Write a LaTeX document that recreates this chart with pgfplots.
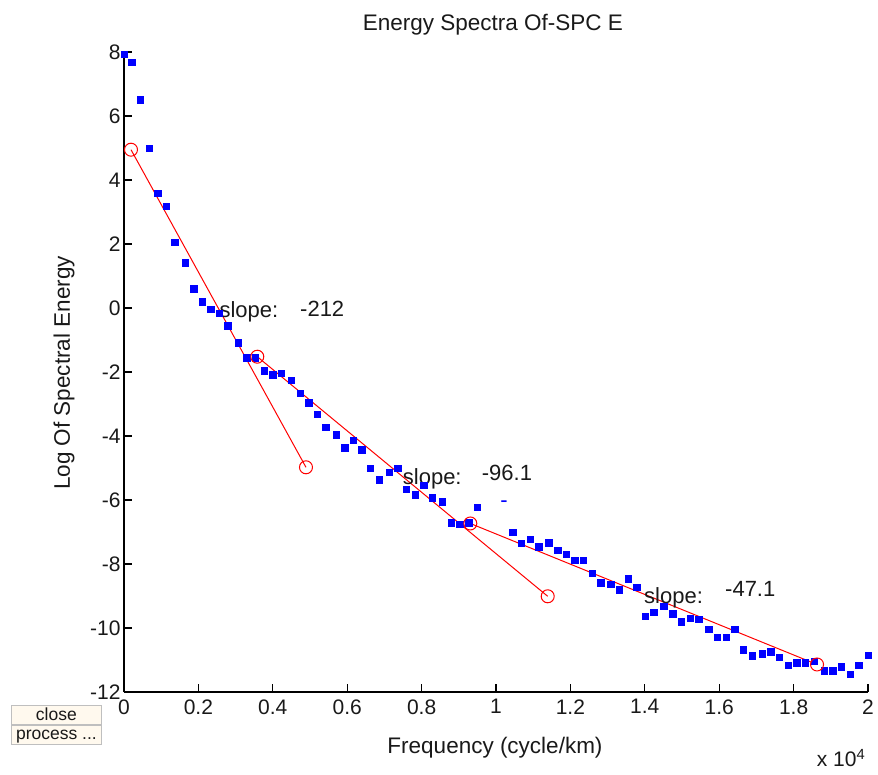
\documentclass[border=0pt]{standalone}
\usepackage{pgfplots}
\pgfplotsset{compat=1.18}
\usepackage{fontspec}
\setmainfont{Liberation Sans}
\definecolor{btn}{RGB}{255,249,238}
\definecolor{txt}{RGB}{25,25,25}
\begin{document}
\begin{tikzpicture}[x=1pt,y=1pt]
\begin{axis}[
  at={(0,0)}, anchor=south west,
  scale only axis, width=744pt, height=640pt,
  xmin=0, xmax=2, ymin=-12, ymax=8,
  axis x line*=bottom, axis y line*=left,
  tick align=inside,
  xtick={0,0.2,0.4,0.6,0.8,1,1.2,1.4,1.6,1.8,2},
  xticklabels={0,0.2,0.4,0.6,0.8,1,1.2,1.4,1.6,1.8,2},
  ytick={-12,-10,-8,-6,-4,-2,0,2,4,6,8},
  yticklabels={-12,-10,-8,-6,-4,-2,0,2,4,6,8},
  major tick length=8pt,
  clip=false,
  /pgf/number format/assume math mode=true,
  tick label style={font=\fontsize{21}{25}\selectfont, text=txt},
  xticklabel style={yshift=-4pt},
  axis line style={line width=1.2pt, black},
  every tick/.style={black, line width=1.2pt},
]
\addplot[only marks, mark=square*, mark size=3.25pt, color=blue] coordinates {
(0,7.93) (0.0207,7.68) (0.0438,6.51) (0.0672,5.00) (0.0906,3.58)
(0.1134,3.18) (0.1358,2.06) (0.1640,1.42) (0.1874,0.61) (0.2097,0.19)
(0.2331,-0.04) (0.2559,-0.16) (0.2790,-0.56) (0.3065,-1.09) (0.3298,-1.56)
(0.3530,-1.56) (0.3763,-1.96) (0.3997,-2.09) (0.4226,-2.03) (0.4497,-2.25)
(0.4739,-2.66) (0.4968,-2.96) (0.5196,-3.32) (0.5425,-3.73) (0.5699,-3.96)
(0.5933,-4.37) (0.6161,-4.13) (0.6392,-4.43) (0.6621,-5.01) (0.6855,-5.37)
(0.7124,-5.13) (0.7358,-5.01) (0.7589,-5.66) (0.7823,-5.83) (0.8056,-5.54)
(0.8288,-5.93) (0.8556,-6.06) (0.8798,-6.71) (0.9027,-6.76) (0.9261,-6.71)
(0.9489,-6.23)
(1.0452,-7.00) (1.0680,-7.35) (1.0914,-7.23) (1.1148,-7.46) (1.1419,-7.34)
(1.1653,-7.57) (1.1882,-7.70) (1.2116,-7.88) (1.2347,-7.88) (1.2581,-8.28)
(1.2815,-8.58) (1.3083,-8.63) (1.3315,-8.81) (1.3548,-8.46) (1.3782,-8.73)
(1.4013,-9.63) (1.4242,-9.51) (1.4511,-9.32) (1.4745,-9.56) (1.4981,-9.81)
(1.5215,-9.69) (1.5449,-9.73) (1.5718,-10.04) (1.5949,-10.28) (1.6183,-10.28)
(1.6417,-10.04) (1.6648,-10.68) (1.6882,-10.87) (1.7151,-10.80) (1.7384,-10.74)
(1.7616,-10.91) (1.7849,-11.16) (1.8083,-11.08) (1.8315,-11.08) (1.8548,-11.04)
(1.8817,-11.33) (1.9051,-11.33) (1.9282,-11.21) (1.9516,-11.45) (1.9750,-11.16)
(2.0000,-10.85)
};
\addplot[red, line width=1pt, mark=o, mark size=6.5pt, mark options={line width=1pt}] coordinates {(0.0188,4.947) (0.4892,-4.978)};
\addplot[red, line width=1pt, mark=o, mark size=6.5pt, mark options={line width=1pt}] coordinates {(0.3583,-1.522) (1.1390,-9.009)};
\addplot[red, line width=1pt, mark=o, mark size=6.5pt, mark options={line width=1pt}] coordinates {(0.9310,-6.734) (1.8630,-11.140)};
\begin{scope}[every node/.style={anchor=base west, inner sep=0pt, text=txt, font=\fontsize{22}{26}\selectfont}]
\node at (axis cs:0.2562,-0.291) {slope:};
\node at (axis cs:0.4731,-0.281) {-212};
\node at (axis cs:0.7492,-5.531) {slope:};
\node at (axis cs:0.9616,-5.375) {-96.1};
\node at (axis cs:1.3978,-9.228) {slope:};
\node at (axis cs:1.6156,-9.022) {-47.1};
\end{scope}
\node[text=blue, inner sep=0pt, font=\fontsize{22}{26}\selectfont] at (axis cs:1.0215,-6.125) {-};
\end{axis}
\begin{scope}[every node/.style={inner sep=0pt, text=txt, font=\fontsize{22.5}{27}\selectfont}]
\node[anchor=base] at (368.9,661) {Energy Spectra Of-SPC E};
\node[anchor=base] at (371,-61) {Frequency (cycle/km)};
\node[anchor=base, rotate=90] at (-54,319) {Log Of Spectral Energy};
\node[anchor=base west, font=\fontsize{21}{25}\selectfont] at (692.7,-74.7) {x 10\textsuperscript{4}};
\end{scope}
\fill[btn, draw=black!25, line width=0.8pt] (-113,-13.7) rectangle (-22.3,-32);
\fill[btn, draw=black!25, line width=0.8pt] (-113,-33.7) rectangle (-22.3,-52);
\begin{scope}[every node/.style={inner sep=0pt, text=txt, font=\fontsize{17.5}{18}\selectfont, anchor=base}]
\node at (-67.6,-28.3) {close};
\node at (-67.6,-47.6) {process ...};
\end{scope}
\pgfresetboundingbox
\path (-124,-82) rectangle (754,692);
\end{tikzpicture}
\end{document}
